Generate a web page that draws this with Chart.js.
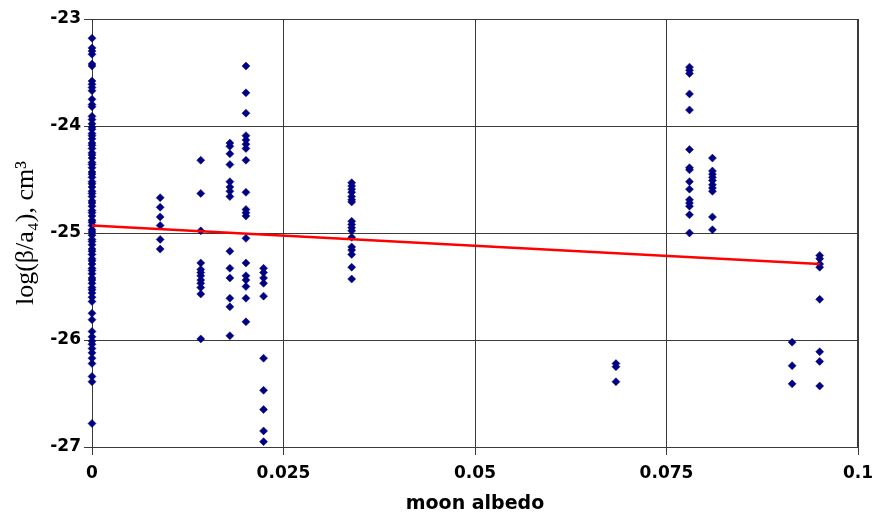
<!DOCTYPE html>
<html>
<head>
<meta charset="utf-8">
<script src="https://cdn.jsdelivr.net/npm/chart.js@4/dist/chart.umd.min.js"></script>
<style>
html,body{margin:0;padding:0;background:#fff;}
#wrap{width:872px;height:515px;position:relative;}
</style>
</head>
<body>
<div id="wrap"><canvas id="c" width="872" height="515"></canvas></div>
<script>
// Moon albedo groups (x) and the log(beta/a4) values observed at each
const albedoGroups = [0, 0.0089, 0.0142, 0.0180, 0.0201, 0.0224, 0.0339, 0.0684, 0.0780, 0.0810, 0.0914, 0.0950];
const valuesAt0 = [-23.18, -23.27, -23.30, -23.33, -23.42, -23.44, -23.58, -23.61, -23.64, -23.67, -23.75, -23.80, -23.82,
  -23.91, -23.94, -23.98, -24.01, -24.03, -24.07, -24.09, -24.12, -24.16, -24.18, -24.21, -24.25, -24.27, -24.30, -24.34,
  -24.36, -24.39, -24.43, -24.45, -24.48, -24.52, -24.54, -24.57, -24.61, -24.63, -24.66, -24.70, -24.72, -24.75, -24.79,
  -24.81, -24.84, -24.88, -24.90, -24.93, -24.97, -24.99, -25.02, -25.06, -25.08, -25.11, -25.15, -25.17, -25.20, -25.24,
  -25.26, -25.29, -25.33, -25.35, -25.38, -25.42, -25.44, -25.47, -25.51, -25.53, -25.56, -25.60, -25.64,
  -25.75, -25.81, -25.92, -25.97, -26.01, -26.04, -26.08, -26.12, -26.17, -26.22, -26.34, -26.39, -26.78];
const valuesAt0089 = [-24.67, -24.76, -24.85, -24.93, -25.06, -25.15];
const valuesAt0142 = [-24.32, -24.63, -24.98, -25.28, -25.34, -25.37, -25.40, -25.44, -25.47, -25.51, -25.57, -25.99];
const valuesAt0180 = [-24.16, -24.19, -24.26, -24.36, -24.52, -24.57, -24.61, -24.66, -25.17, -25.33, -25.42, -25.61, -25.69, -25.96];
const valuesAt0201 = [-23.44, -23.69, -23.88, -24.09, -24.13, -24.17, -24.21, -24.32, -24.62, -24.78, -24.81, -24.84, -25.05, -25.28, -25.40, -25.44, -25.50, -25.61, -25.83];
const valuesAt0224 = [-25.33, -25.37, -25.42, -25.47, -25.59, -26.17, -26.47, -26.65, -26.85, -26.95];
const valuesAt0339 = [-24.53, -24.56, -24.59, -24.62, -24.66, -24.69, -24.71, -24.89, -24.92, -24.95, -24.98, -25.04, -25.13, -25.16, -25.20, -25.32, -25.43];
const valuesAt0684 = [-26.22, -26.25, -26.39];
const valuesAt0780 = [-23.45, -23.48, -23.51, -23.70, -23.85, -24.22, -24.39, -24.41, -24.52, -24.59, -24.69, -24.72, -24.75, -24.83, -25.00];
const valuesAt0810 = [-24.30, -24.42, -24.45, -24.48, -24.51, -24.55, -24.58, -24.61, -24.85, -24.97];
const valuesAt0914 = [-26.02, -26.24, -26.41];
const valuesAt0950 = [-25.21, -25.24, -25.29, -25.32, -25.62, -26.11, -26.20, -26.43];
const groupValues = [valuesAt0, valuesAt0089, valuesAt0142, valuesAt0180, valuesAt0201, valuesAt0224,
  valuesAt0339, valuesAt0684, valuesAt0780, valuesAt0810, valuesAt0914, valuesAt0950];
// Linear trend line end points
const trendX = [0, 0.0950];
const trendY = [-24.93, -25.29];
// Tick labels
const xTickLabels = {0: '0', 0.025: '0.025', 0.05: '0.05', 0.075: '0.075', 0.1: '0.1'};
const yTickValues = [-23, -24, -25, -26, -27];

const scatterPoints = [];
albedoGroups.forEach((x, i) => groupValues[i].forEach(y => scatterPoints.push({x: x, y: y})));
const trendPoints = trendX.map((x, i) => ({x: x, y: trendY[i]}));

const gridColor = '#3a3a3a';
const tickFont = {family: 'DejaVu Sans', size: 17, weight: 'bold'};
new Chart(document.getElementById('c'), {
  type: 'scatter',
  data: {
    datasets: [
      {
        type: 'line',
        data: trendPoints,
        borderColor: '#ff0000',
        borderWidth: 2.5,
        pointRadius: 0,
        fill: false,
        order: 0
      },
      {
        data: scatterPoints,
        pointStyle: 'rectRot',
        pointRadius: 4,
        backgroundColor: '#000080',
        borderColor: '#000080',
        borderWidth: 0.5,
        clip: false,
        order: 1
      }
    ]
  },
  options: {
    responsive: false,
    animation: false,
    layout: {padding: {top: 19, right: 14, left: 0, bottom: 0}},
    plugins: {legend: {display: false}, tooltip: {enabled: false}},
    scales: {
      x: {
        type: 'linear',
        min: 0, max: 0.1,
        afterFit: s => { s.height = 68; s.paddingRight = 0; s.paddingLeft = 0; },
        ticks: {
          stepSize: 0.025,
          padding: 8,
          color: '#000',
          font: tickFont,
          callback: v => xTickLabels[Math.round(v * 1000) / 1000] ?? ''
        },
        grid: {color: gridColor, lineWidth: 1, tickLength: 8, tickColor: gridColor},
        border: {color: gridColor, width: 1},
        title: {
          display: true,
          text: 'moon albedo',
          color: '#000',
          font: {family: 'DejaVu Sans', size: 19, weight: 'bold'},
          padding: {top: 8, bottom: 0}
        }
      },
      y: {
        type: 'linear',
        min: -27, max: -23,
        afterFit: s => { s.width = 92; },
        afterBuildTicks: s => { s.ticks = yTickValues.map(v => ({value: v})); },
        ticks: {
          padding: 3,
          color: '#000',
          font: tickFont
        },
        grid: {color: gridColor, lineWidth: 1, tickLength: 8, tickColor: gridColor},
        border: {color: gridColor, width: 1},
        title: {
          display: true,
          text: 'log(β/a₄), cm³',
          color: '#000',
          font: {family: 'Liberation Serif', size: 26},
          padding: {top: 11, bottom: 0}
        }
      }
    }
  },
  plugins: [{
    id: 'rightTopBorder',
    afterDraw(chart) {
      const a = chart.chartArea, c = chart.ctx;
      c.save();
      c.strokeStyle = gridColor; c.lineWidth = 1;
      c.beginPath();
      c.moveTo(a.left, a.top + 0.5); c.lineTo(a.right, a.top + 0.5);
      c.moveTo(a.right - 0.5, a.top); c.lineTo(a.right - 0.5, a.bottom);
      c.stroke();
      c.restore();
    }
  }]
});
</script>
</body>
</html>
